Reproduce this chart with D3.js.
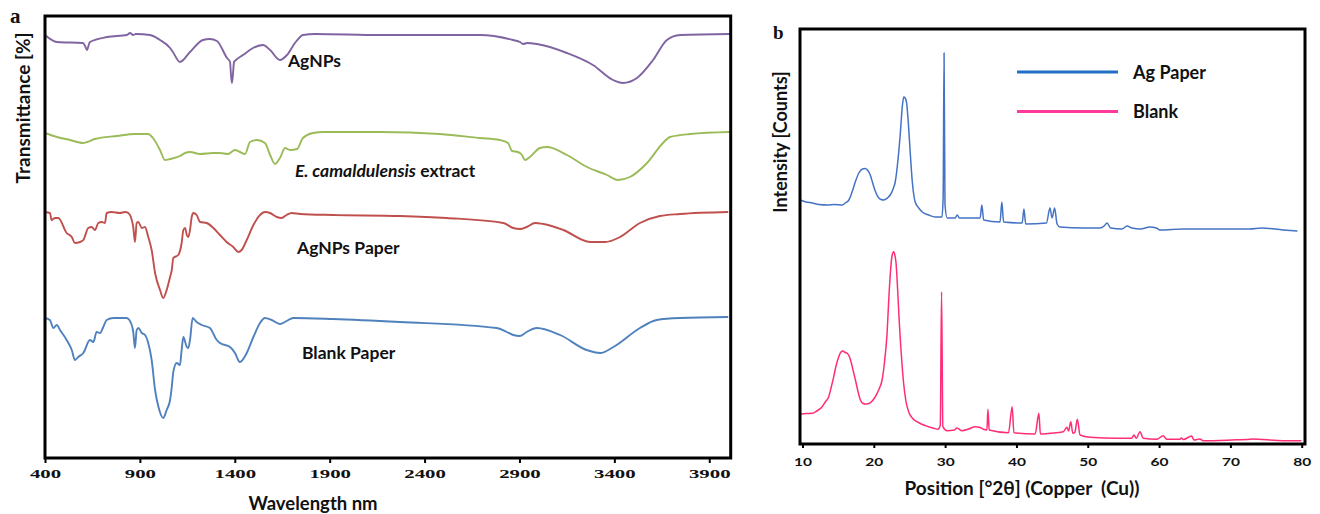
<!DOCTYPE html>
<html>
<head>
<meta charset="utf-8">
<script src="https://cdn.jsdelivr.net/npm/d3@7"></script>
<style>
  body { margin: 0; background: #fff; }
  svg { display: block; }
  text { font-family: Lato, "Open Sans", sans-serif; font-weight: bold; fill: #111; }
</style>
</head>
<body>
<svg id="chart" width="1320" height="514"></svg>
<script>
// ---------- Panel a: FTIR (wavelength nm, relative transmittance) ----------
const ftirTicks = [400, 900, 1400, 1900, 2400, 2900, 3400, 3900];
const ftirLabels = ["AgNPs", "E. camaldulensis extract", "AgNPs Paper", "Blank Paper"];
const agnps = [[400,423],[463,416],[600,415],[611,412],[621,408],[632,414],[637,416],[727,421],[832,423],[848,425],[864,423],[879,424],[953,423],[1006,418],[1059,410],[1074,406],[1111,396],[1164,406],[1232,418],[1269,419],[1306,417],[1359,400],[1375,396],[1380,383],[1385,375],[1390,383],[1396,396],[1406,398],[1443,403],[1496,410],[1549,413],[1586,408],[1638,398],[1675,403],[1717,415],[1744,421],[1759,423],[1823,424],[2165,423],[2692,423],[2866,418],[2903,416],[2919,414],[2940,415],[2992,414],[3150,405],[3287,393],[3393,378],[3445,375],[3519,380],[3604,398],[3677,418],[3746,423],[4009,424]];
const extract = [[400,325],[463,321],[532,318],[600,315],[621,316],[663,319],[779,322],[874,324],[943,324],[969,320],[1006,308],[1032,298],[1059,299],[1111,302],[1138,305],[1164,306],[1217,304],[1285,305],[1322,305],[1364,304],[1401,308],[1427,306],[1454,304],[1480,316],[1517,318],[1559,315],[1586,303],[1612,294],[1638,300],[1665,310],[1691,308],[1728,309],[1759,320],[1812,325],[1865,326],[2165,326],[2481,324],[2692,320],[2797,318],[2840,315],[2861,307],[2892,306],[2913,303],[2929,298],[2955,301],[3008,310],[3045,311],[3150,303],[3256,291],[3361,283],[3419,278],[3482,281],[3572,295],[3656,315],[3693,321],[3799,324],[4009,326]];
const agnpsPaper = [[400,246],[426,245],[435,238],[453,240],[470,240],[514,225],[541,221],[558,215],[584,216],[602,218],[628,230],[646,231],[663,228],[681,235],[699,236],[716,235],[725,245],[751,246],[795,245],[822,246],[839,245],[857,238],[865,231],[874,216],[883,235],[892,236],[910,230],[927,231],[944,221],[962,208],[980,185],[1006,168],[1023,160],[1041,168],[1059,181],[1068,188],[1076,200],[1102,203],[1120,215],[1129,228],[1138,230],[1147,223],[1155,221],[1164,228],[1173,241],[1181,245],[1199,243],[1217,236],[1252,235],[1287,230],[1322,223],[1357,216],[1392,211],[1418,206],[1436,208],[1463,218],[1498,233],[1533,243],[1559,246],[1586,245],[1621,241],[1647,240],[1673,243],[1700,245],[1744,244],[1919,243],[2270,242],[2516,240],[2815,235],[2867,230],[2903,229],[2938,231],[2982,235],[3026,234],[3131,228],[3272,216],[3351,216],[3430,221],[3535,235],[3640,242],[3746,244],[4000,246]];
const blankPaper = [[400,140],[426,138],[444,130],[462,133],[479,128],[514,118],[541,108],[558,98],[575,101],[602,105],[637,118],[655,116],[672,126],[690,125],[707,131],[725,138],[760,140],[830,140],[857,133],[865,126],[874,110],[883,128],[892,130],[910,125],[927,123],[944,115],[962,98],[980,68],[998,51],[1023,40],[1041,48],[1059,58],[1068,71],[1076,86],[1094,95],[1111,93],[1120,108],[1129,121],[1147,111],[1155,110],[1164,118],[1178,140],[1199,136],[1226,133],[1269,130],[1305,118],[1322,115],[1375,111],[1401,105],[1427,96],[1463,105],[1498,121],[1533,135],[1559,140],[1594,138],[1638,134],[1673,137],[1708,140],[1917,139],[2270,136],[2780,130],[2833,126],[2867,123],[2903,122],[2938,126],[2991,130],[3114,123],[3254,108],[3325,105],[3395,111],[3535,130],[3623,138],[3746,140],[4000,141]];
const ftirColors = ["#8064a2", "#9bbb59", "#c0504d", "#4f81bd"];

// ---------- Panel b: XRD (2θ, counts) ----------
const xrdTicks = [10, 20, 30, 40, 50, 60, 70, 80];
const xrdSeries = ["Ag Paper", "Blank"];
const agPaper = [[9.7,2440],[10.5,2420],[11.4,2410],[12.3,2395],[13.5,2390],[14.5,2395],[15.6,2390],[16.0,2410],[16.5,2440],[17.0,2530],[17.4,2620],[17.9,2710],[18.4,2750],[18.8,2755],[19.1,2740],[19.5,2690],[19.8,2620],[20.2,2530],[20.7,2460],[21.0,2445],[21.4,2440],[21.9,2460],[22.3,2490],[22.7,2550],[23.0,2620],[23.4,2850],[23.7,3090],[24.0,3380],[24.2,3470],[24.4,3460],[24.6,3410],[24.85,3200],[25.1,2920],[25.4,2620],[25.8,2420],[26.3,2360],[26.8,2320],[27.7,2290],[28.6,2270],[29.55,2270],[29.72,2460],[29.85,3910],[29.98,2390],[30.3,2260],[31.4,2260],[31.7,2290],[32.0,2260],[33.3,2260],[34.9,2260],[35.15,2390],[35.4,2240],[37.7,2220],[37.95,2420],[38.2,2220],[40.8,2210],[41.05,2350],[41.3,2200],[44.2,2210],[44.7,2360],[45.0,2260],[45.35,2360],[45.7,2200],[46.1,2170],[49.4,2160],[51.7,2160],[52.3,2180],[52.7,2210],[53.2,2160],[54.8,2150],[55.5,2180],[56.2,2160],[57.4,2150],[58.7,2170],[59.6,2160],[60.1,2140],[63.4,2150],[65.5,2150],[69.0,2150],[72.7,2150],[74.4,2160],[77.4,2140],[79.4,2130]];
const blank = [[9.7,300],[10.5,305],[11.36,307],[12.0,330],[12.76,373],[13.2,420],[13.68,473],[14.0,560],[14.38,673],[14.7,780],[15.08,873],[15.4,920],[15.64,930],[16.0,915],[16.26,907],[16.6,870],[16.86,807],[17.15,720],[17.42,640],[17.8,520],[18.12,440],[18.5,405],[18.82,400],[19.2,402],[19.52,413],[20.0,450],[20.46,507],[20.8,560],[21.16,640],[21.5,820],[21.86,1107],[22.1,1450],[22.32,1707],[22.55,1880],[22.78,1923],[22.95,1890],[23.12,1807],[23.35,1530],[23.58,1207],[23.9,850],[24.18,607],[24.5,430],[24.88,323],[25.4,260],[26.06,223],[26.8,195],[27.68,173],[28.4,158],[29.0,147],[29.32,190],[29.5,1523],[29.68,173],[30.26,133],[31.3,140],[31.66,160],[32.36,133],[33.3,150],[34.22,173],[34.9,165],[35.38,147],[35.86,140],[36.0,347],[36.18,140],[38.88,113],[39.4,373],[39.64,113],[42.62,100],[43.14,307],[43.36,100],[44.72,107],[46.58,123],[47.06,167],[47.3,130],[47.62,223],[47.9,107],[48.2,120],[48.54,247],[48.92,90],[50.32,67],[54.06,57],[56.16,57],[56.48,90],[56.8,57],[57.32,123],[57.78,57],[59.66,47],[60.58,83],[61.06,47],[62.92,47],[63.1,60],[63.4,45],[64.56,80],[64.88,40],[65.72,50],[66.18,33],[70.16,40],[72.72,47],[73.0,50],[77.38,33],[79.96,33]];
const xrdColors = ["#4472c4", "#ff2d78"];
const legendColors = ["#1f6fc4", "#ff3a9a"];

const svg = d3.select("#chart");

// ===== Panel a =====
const ax = d3.scaleLinear().domain([400, 4013]).range([45, 730.7]);
const ay = d3.scaleLinear().domain([0, 442]).range([458, 16]);
const aLine = d3.line().x(d => ax(d[0])).y(d => ay(d[1])).curve(d3.curveMonotoneX);
const pa = svg.append("g");
[agnps, extract, agnpsPaper, blankPaper].forEach((s, i) => {
  pa.append("path").datum(s).attr("d", aLine).attr("fill", "none")
    .attr("stroke", ftirColors[i]).attr("stroke-width", 1.9).attr("stroke-linejoin", "round");
});
const aAxis = pa.append("g").attr("transform", "translate(0,458)")
  .call(d3.axisBottom(ax).tickValues(ftirTicks).tickSize(5).tickSizeOuter(0).tickFormat(d3.format("d")));
aAxis.select(".domain").remove();
aAxis.selectAll(".tick line").attr("stroke", "#000").attr("stroke-width", 2);
aAxis.selectAll(".tick text").attr("y", 0).attr("dy", "19.5px")
  .style("font-family", "'Liberation Serif', 'DejaVu Serif', serif").style("font-size", "12px").style("font-weight", "bold")
  .attr("fill", "#222")
  .attr("textLength", d => String(d).length * 10.4).attr("lengthAdjust", "spacingAndGlyphs");
pa.append("rect").attr("x", ax(400)).attr("y", ay(442)).attr("width", ax(4013) - ax(400)).attr("height", ay(0) - ay(442))
  .attr("fill", "none").attr("stroke", "#000").attr("stroke-width", 3);

// Series labels (anchored in data coordinates)
const aLabelPos = [[1680, 391], [1717, 281], [1728, 204], [1754, 99]];
aLabelPos.forEach((p, i) => {
  const t = pa.append("text").attr("x", ax(p[0])).attr("y", ay(p[1])).style("font-size", "17.5px");
  if (i === 1) {
    t.append("tspan").style("font-style", "italic").text("E. camaldulensis");
    t.append("tspan").text(" extract");
  } else {
    t.text(ftirLabels[i]);
  }
});
pa.append("text").attr("x", 313).attr("y", 510).attr("text-anchor", "middle").style("font-size", "18.5px").text("Wavelength nm");
pa.append("text").attr("transform", "translate(30,108) rotate(-90)").attr("text-anchor", "middle").style("font-size", "19px").text("Transmittance [%]");
pa.append("text").attr("x", 10).attr("y", 23).style("font-family", "'Liberation Serif', serif").style("font-size", "21px").text("a");

// ===== Panel b =====
const bx = d3.scaleLinear().domain([9.65, 80.46]).range([800, 1305]);
const by = d3.scaleLinear().domain([0, 4150]).range([444, 29]);
const bLine = d3.line().x(d => bx(d[0])).y(d => by(d[1])).curve(d3.curveMonotoneX);
const pb = svg.append("g");
[agPaper, blank].forEach((s, i) => {
  pb.append("path").datum(s).attr("d", bLine).attr("fill", "none")
    .attr("stroke", xrdColors[i]).attr("stroke-width", 1.5).attr("stroke-linejoin", "round");
});
const bAxis = pb.append("g").attr("transform", "translate(0,444)")
  .call(d3.axisBottom(bx).tickValues(xrdTicks).tickSize(4).tickSizeOuter(0).tickFormat(d3.format("d")));
bAxis.select(".domain").remove();
bAxis.selectAll(".tick line").attr("stroke", "#000").attr("stroke-width", 2);
bAxis.selectAll(".tick text").attr("y", 0).attr("dy", "21.5px")
  .style("font-size", "11.5px").style("font-weight", "bold").attr("fill", "#222")
  .attr("textLength", d => String(d).length * 9).attr("lengthAdjust", "spacingAndGlyphs");
pb.append("rect").attr("x", bx(9.65)).attr("y", by(4150)).attr("width", bx(80.46) - bx(9.65)).attr("height", by(0) - by(4150))
  .attr("fill", "none").attr("stroke", "#000").attr("stroke-width", 3);

// Legend
xrdSeries.forEach((name, i) => {
  const yy = 72 + i * 39.5;
  pb.append("line").attr("x1", 1017).attr("x2", 1118).attr("y1", yy).attr("y2", yy)
    .attr("stroke", legendColors[i]).attr("stroke-width", 3.2);
  pb.append("text").attr("x", 1133).attr("y", yy + 6.5).style("font-size", "18px").text(name);
});
pb.append("text").attr("x", 1022).attr("y", 495).attr("text-anchor", "middle").style("font-size", "19px")
  .style("white-space", "pre").text("Position [°2θ] (Copper  (Cu))");
pb.append("text").attr("transform", "translate(787,142) rotate(-90)").attr("text-anchor", "middle").style("font-size", "18px").text("Intensity [Counts]");
pb.append("text").attr("x", 773).attr("y", 39).style("font-family", "'Liberation Serif', serif").style("font-size", "19px").text("b");
</script>
</body>
</html>
